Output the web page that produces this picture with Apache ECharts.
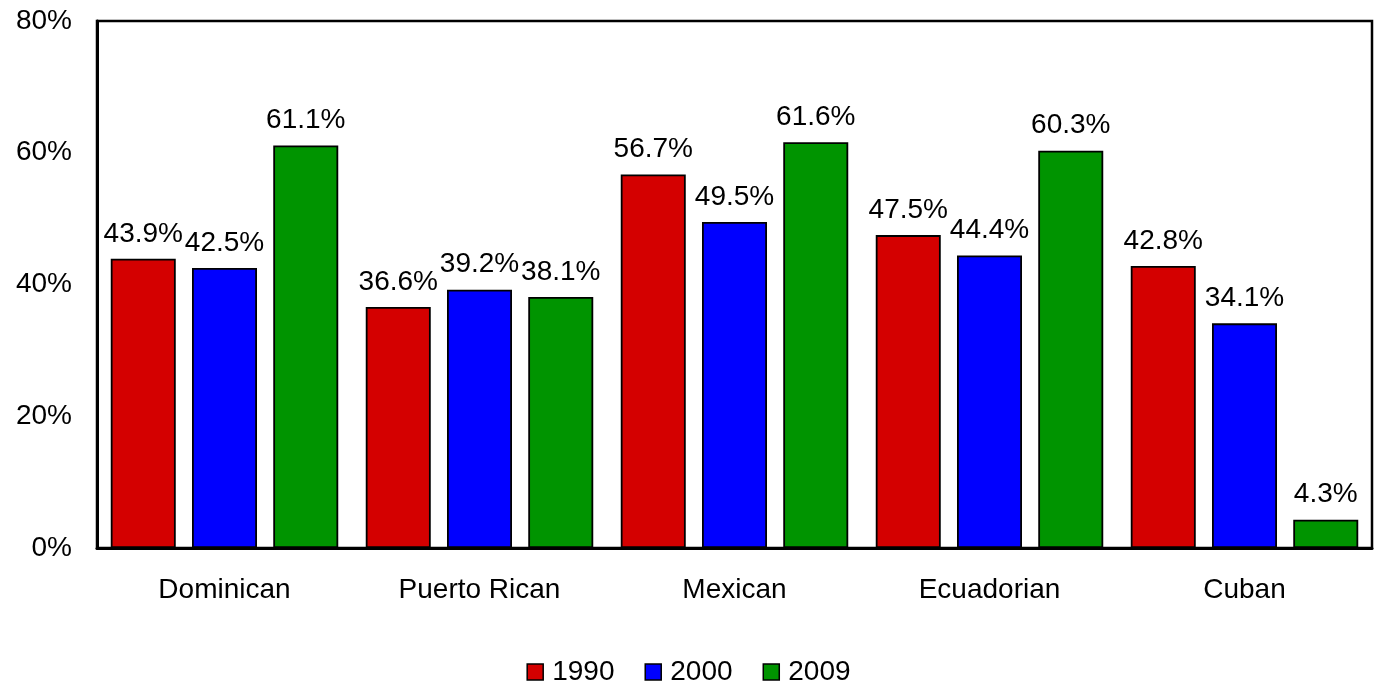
<!DOCTYPE html>
<html>
<head>
<meta charset="utf-8">
<script src="https://cdn.jsdelivr.net/npm/echarts@6/dist/echarts.min.js"></script>
<style>html,body{margin:0;padding:0;background:#fff}#c{width:1377px;height:685px}</style>
</head>
<body>
<div id="c"></div>
<script>
const categories = ['Dominican', 'Puerto Rican', 'Mexican', 'Ecuadorian', 'Cuban'];
const seriesNames = ['1990', '2000', '2009'];
const values1990 = [43.9, 36.6, 56.7, 47.5, 42.8];
const values2000 = [42.5, 39.2, 49.5, 44.4, 34.1];
const values2009 = [61.1, 38.1, 61.6, 60.3, 4.3];
const yTicks = [0, 20, 40, 60, 80];
const colors = ['#d40000', '#0000ff', '#009400'];

const font = 'Liberation Sans, Arial, sans-serif';
const allValues = [values1990, values2000, values2009];
const chart = echarts.init(document.getElementById('c'));
chart.setOption({
  animation: false,
  grid: { left: 97, right: 5, top: 21, bottom: 137, show: true, borderColor: '#000', borderWidth: 2.5, containLabel: false },
  legend: {
    top: 653, left: 'center', itemWidth: 16, itemHeight: 16, itemGap: 30,
    textStyle: { fontSize: 28, fontFamily: font, color: '#000', padding: [0, 0, 0, 4] },
    data: seriesNames.map((n, i) => ({ name: n, icon: 'rect', itemStyle: { color: colors[i], borderColor: '#000', borderWidth: 1.5 } }))
  },
  xAxis: {
    type: 'category', data: categories,
    axisLine: { show: true, lineStyle: { color: '#000', width: 3 } },
    axisTick: { show: false },
    axisLabel: { fontSize: 28, fontFamily: font, color: '#000', margin: 28 }
  },
  yAxis: {
    type: 'value', min: yTicks[0], max: yTicks[yTicks.length - 1], interval: 20,
    splitLine: { show: false },
    axisLine: { show: true, lineStyle: { color: '#000', width: 3 } },
    axisTick: { show: false },
    axisLabel: { fontSize: 28, fontFamily: font, color: '#000', margin: 25, formatter: v => v + '%' }
  },
  series: seriesNames.map((n, i) => ({
    name: n, type: 'bar', data: allValues[i],
    barWidth: 65, barGap: '25%',
    itemStyle: { color: colors[i], borderColor: '#000', borderWidth: 1.8 },
    label: { show: true, position: 'top', distance: 11, fontSize: 28, fontFamily: font, color: '#000', formatter: p => p.value.toFixed(1) + '%' }
  }))
});
</script>
</body>
</html>
